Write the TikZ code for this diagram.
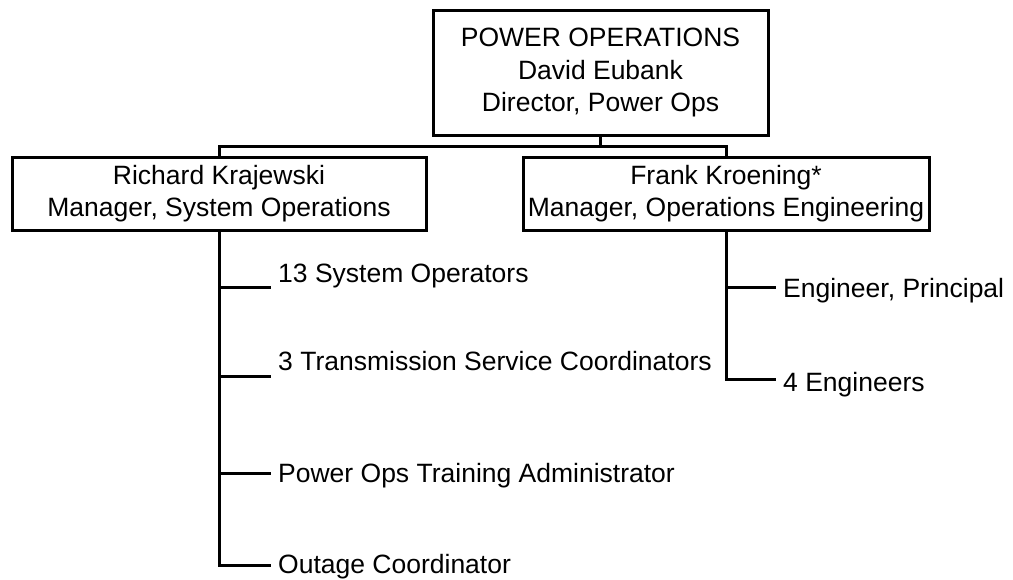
\documentclass[tikz,border=0pt]{standalone}
\usepackage{fontspec}
\setmainfont{Liberation Sans}
\begin{document}
\begin{tikzpicture}[x=1pt,y=-1pt,
  every node/.style={font={\fontsize{26.5}{32.5}\selectfont}},
  box/.style={draw,line width=3pt,align=center,inner sep=0pt,minimum height=73pt},
  item/.style={anchor=base west,inner xsep=7pt,inner ysep=0pt},
  conn/.style={line width=3pt}]
\useasboundingbox (0,0) rectangle (1013,579);
\node[box,minimum width=335pt,minimum height=125pt] (T) at (600.5,72.5) {POWER OPERATIONS\\David Eubank\\Director, Power Ops};
\node[box,minimum width=414pt] (L) at (219,193.5) {Richard Krajewski\\Manager, System Operations};
\node[box,minimum width=406pt] (R) at (726,193.5) {Frank Kroening*\\Manager, Operations Engineering};
\coordinate (bus) at (600.5,146);
\draw[conn] (T.south) -- (bus);
\draw[conn] (bus) -| (L.north);
\draw[conn] (bus) -| (R.north);
% left items
\node[item] (n1) at (271,282) {13 System Operators};
\node[item] (n2) at (271,370) {3 Transmission Service Coordinators};
\node[item] (n3) at (271,482) {Power Ops Training Administrator};
\node[item] (n4) at (271,573) {Outage Coordinator};
\coordinate (b1) at (219,287);
\coordinate (b2) at (219,376);
\coordinate (b3) at (219,473);
\coordinate (b4) at (219,565);
\draw[conn] (L.south) -- (b4) -- (b4 -| n4.west);
\draw[conn] (b1) -- (b1 -| n1.west);
\draw[conn] (b2) -- (b2 -| n2.west);
\draw[conn] (b3) -- (b3 -| n3.west);
% right items
\node[item] (m1) at (776,297) {Engineer, Principal};
\node[item] (m2) at (776,391) {4 Engineers};
\coordinate (r1) at (726,287);
\coordinate (r2) at (726,379);
\draw[conn] (R.south) -- (r2) -- (r2 -| m2.west);
\draw[conn] (r1) -- (r1 -| m1.west);
\end{tikzpicture}
\end{document}
